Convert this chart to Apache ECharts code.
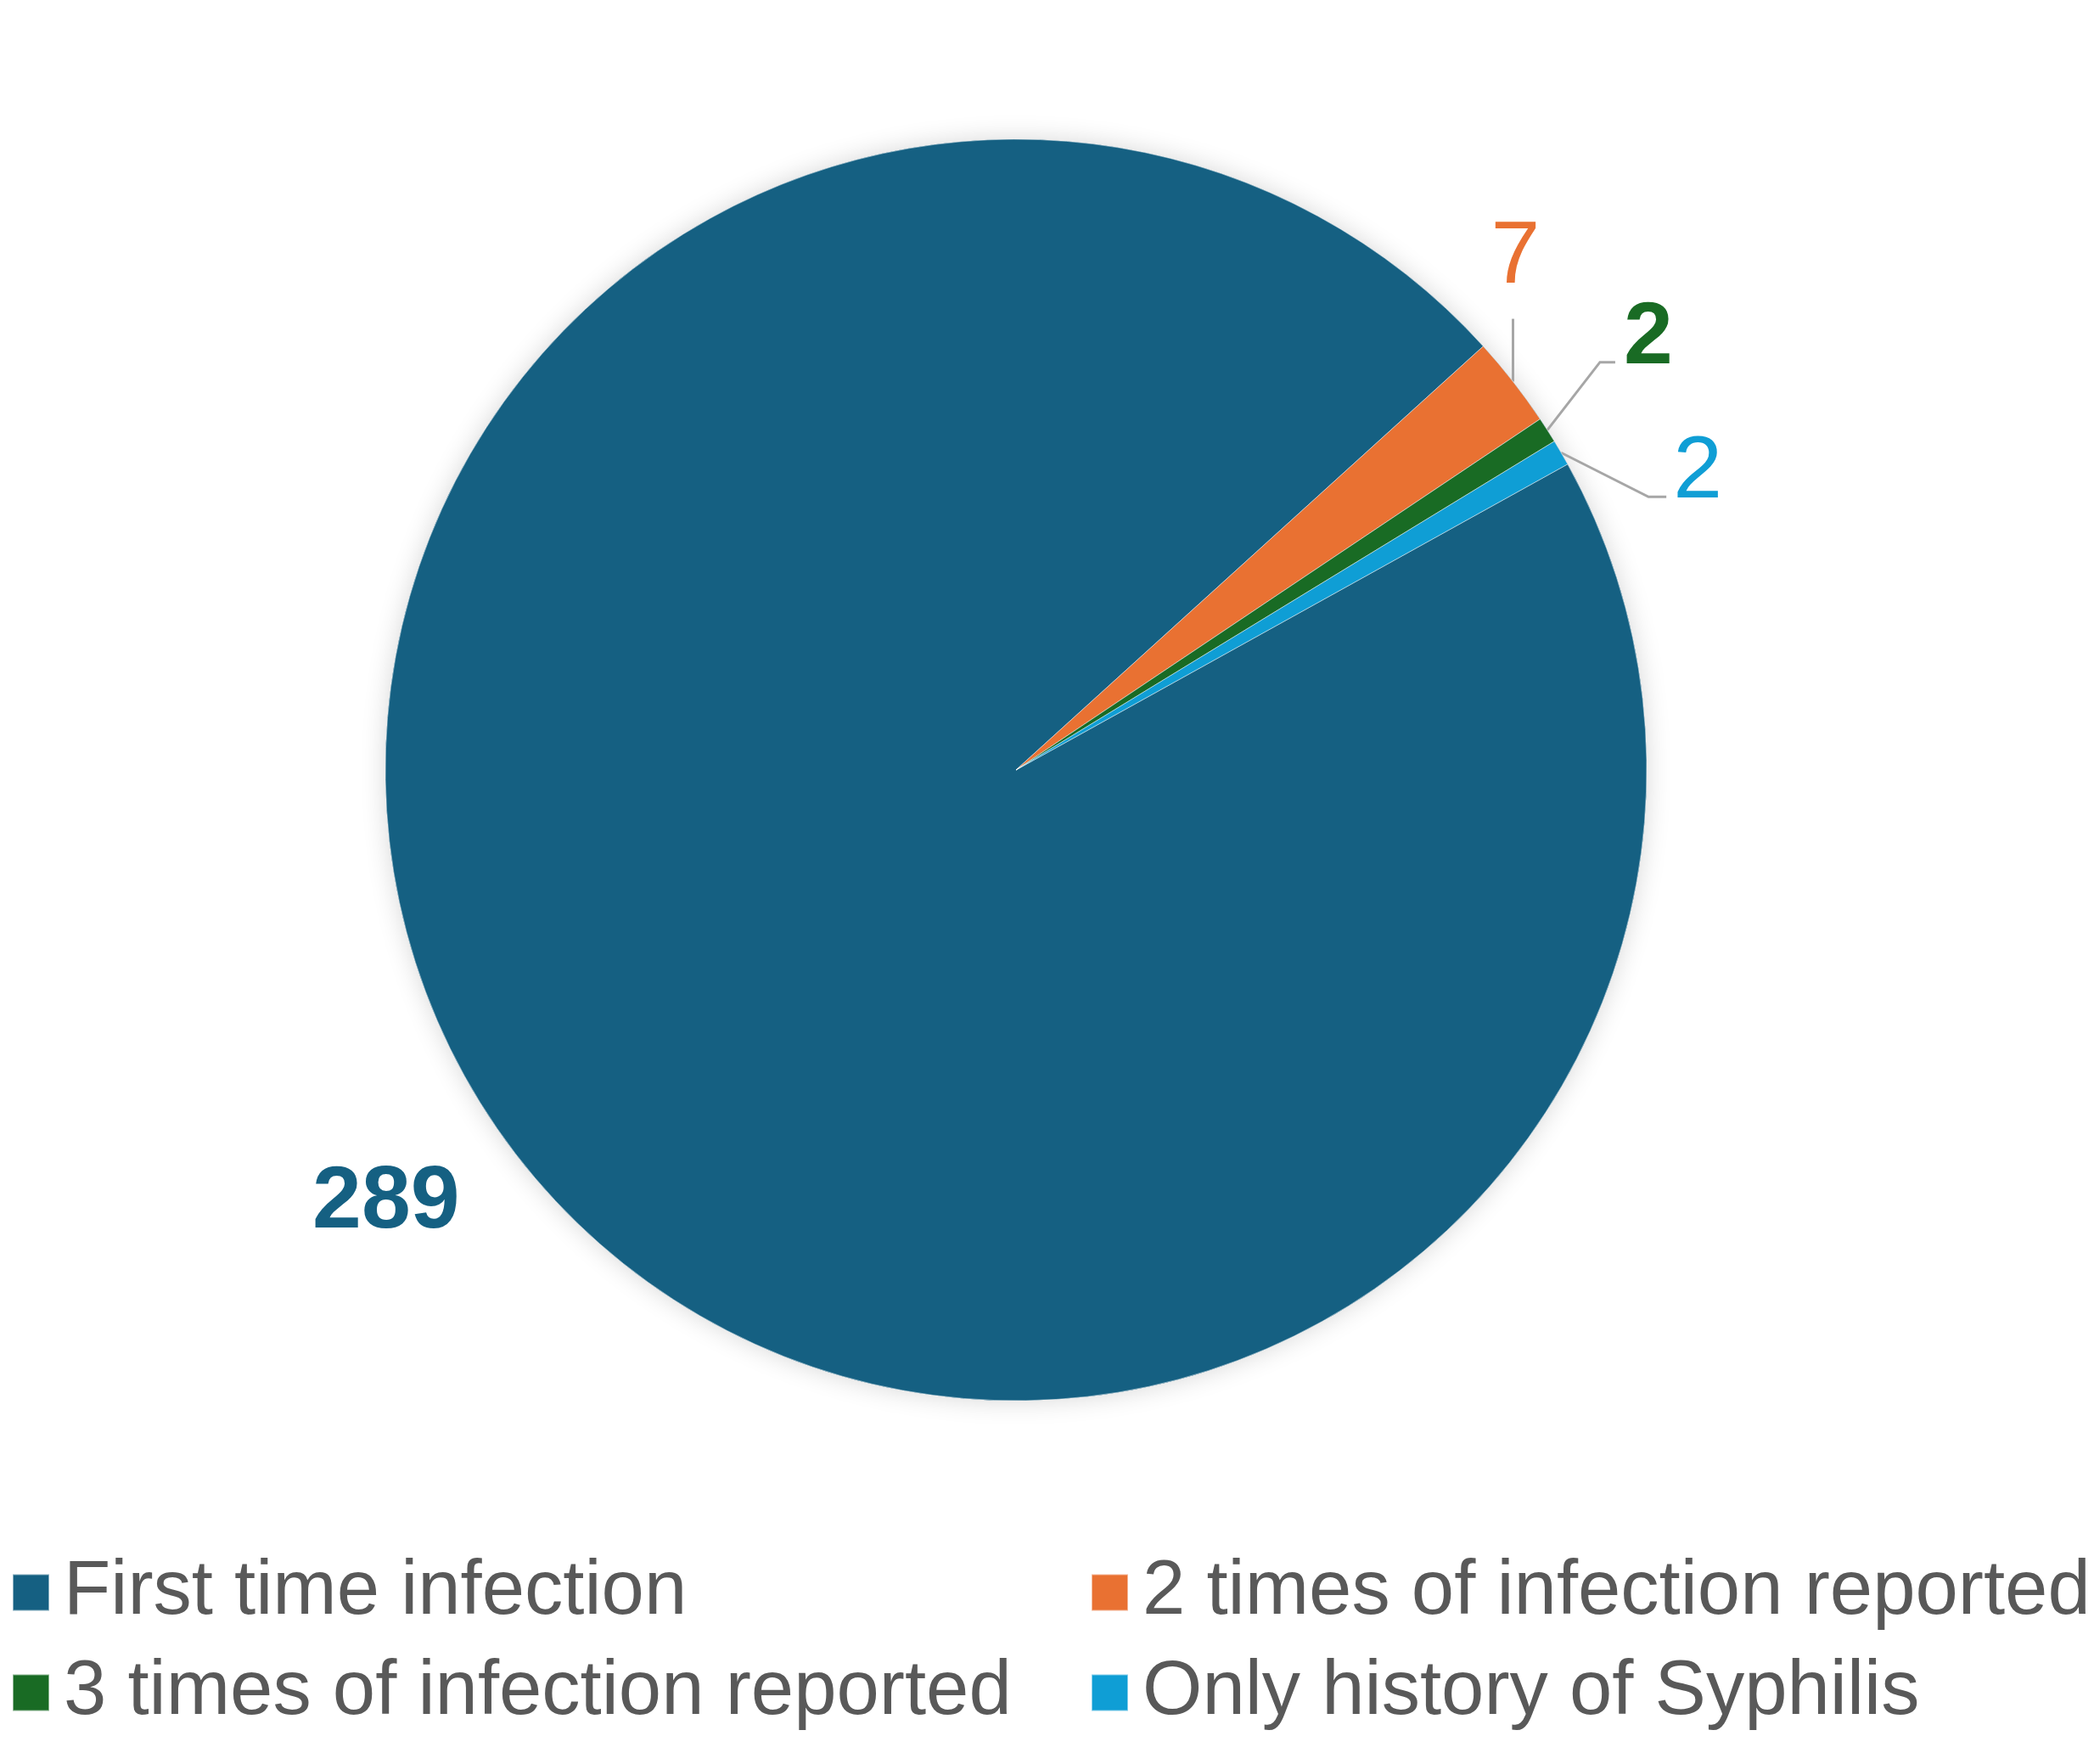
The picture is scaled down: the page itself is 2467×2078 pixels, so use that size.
<!DOCTYPE html>
<html>
<head>
<meta charset="utf-8">
<script src="https://cdn.jsdelivr.net/npm/echarts@6/dist/echarts.min.js"></script>
<style>
  html, body { margin: 0; padding: 0; background: #fff; }
  #chart { width: 2467px; height: 2078px; }
</style>
</head>
<body>
<div id="chart"></div>
<script>
const categories = [
  'First time infection',
  '2 times of infection reported',
  '3 times of infection reported',
  'Only history of Syphilis'
];
const values = [289, 7, 2, 2];
const colors = ['#156082', '#E97132', '#196B24', '#0F9ED5'];

// pie geometry (px)
const CX = 1197, CY = 907, R = 743;
const START = 29;

// label placement relative to the slice edge at its mid-angle
const labelOffset = [[-138, 78], [3, -145], [119, -107], [161, 24]];
const lineBend = [null, [0, -74], [62, -80], [103, 52]];
const lineEnd = [null, [0, -74], [80, -80], [124, 52]];
const labelBold = [true, false, true, false];

const total = values.reduce((a, b) => a + b, 0);
const anchors = [];
let cum = 0;
values.forEach(v => {
  const mid = (START - (cum + v / 2) / total * 360) * Math.PI / 180;
  anchors.push([CX + R * Math.cos(mid), CY - R * Math.sin(mid)]);
  cum += v;
});

const chart = echarts.init(document.getElementById('chart'));

const legendBase = {
  orient: 'vertical',
  top: 1821,
  itemWidth: 43,
  itemHeight: 43,
  itemGap: 18,
  icon: 'rect',
  textStyle: {
    fontFamily: 'Liberation Sans',
    fontSize: 90.5,
    lineHeight: 100,
    color: '#595959',
    padding: [0, 0, 0, 12]
  }
};

chart.setOption({
  animation: false,
  backgroundColor: '#fff',
  legend: [
    Object.assign({}, legendBase, { left: 9, data: [categories[0], categories[2]] }),
    Object.assign({}, legendBase, { left: 1280, data: [categories[1], categories[3]] })
  ],
  series: [
    {
      type: 'pie',
      silent: true,
      center: [CX, CY],
      radius: R,
      startAngle: START,
      label: { show: false },
      labelLine: { show: false },
      itemStyle: {
        color: colors[0],
        shadowBlur: 30,
        shadowColor: 'rgba(0,0,0,0.16)'
      },
      data: [{ name: 'total', value: total }],
      z: 1
    },
    {
      type: 'pie',
      center: [CX, CY],
      radius: R,
      startAngle: START,
      clockwise: true,
      avoidLabelOverlap: false,
      z: 2,
      itemStyle: {
        borderColor: 'rgba(255,255,255,0.5)',
        borderWidth: 1
      },
      label: {
        show: true,
        position: 'outside',
        fontFamily: 'Liberation Sans',
        fontSize: 104,
        formatter: '{c}'
      },
      labelLine: {
        show: true,
        lineStyle: { color: '#A6A6A6', width: 3 }
      },
      labelLayout: params => {
        const i = params.dataIndex;
        const a = anchors[i];
        const out = {
          x: a[0] + labelOffset[i][0],
          y: a[1] + labelOffset[i][1],
          align: 'center',
          verticalAlign: 'middle'
        };
        if (lineBend[i]) {
          out.labelLinePoints = [
            [a[0], a[1]],
            [a[0] + lineBend[i][0], a[1] + lineBend[i][1]],
            [a[0] + lineEnd[i][0], a[1] + lineEnd[i][1]]
          ];
        }
        return out;
      },
      data: categories.map((name, i) => ({
        name,
        value: values[i],
        itemStyle: { color: colors[i] },
        label: { color: colors[i], fontWeight: labelBold[i] ? 'bold' : 'normal' },
        labelLine: { show: i > 0 }
      }))
    }
  ]
});
</script>
</body>
</html>
